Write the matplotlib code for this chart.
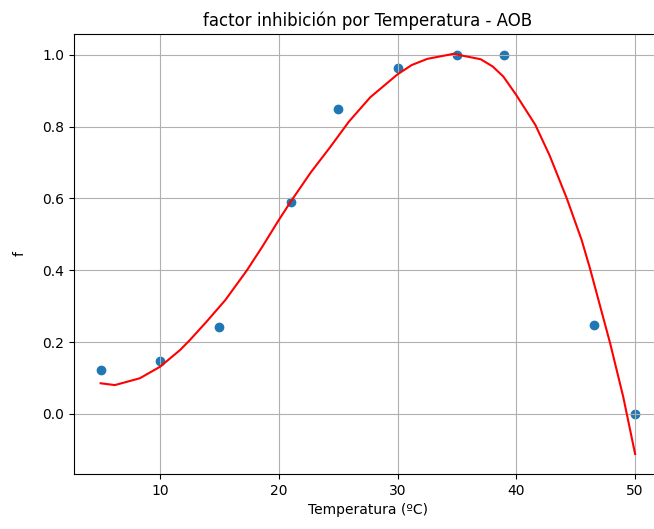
import matplotlib
matplotlib.use("Agg")
import matplotlib.pyplot as plt

# measured points
temp = [5, 10, 15, 21, 25, 30, 35, 39, 46.5, 50]
f_obs = [0.123, 0.146, 0.243, 0.591, 0.849, 0.963, 1.0, 1.0, 0.248, 0.0]

# fitted curve
temp_fit = [5, 6.2, 8.3, 10, 11.7, 12.5, 13.9, 15.5, 17.3, 18.6, 20, 21,
            22.7, 24.3, 25.9, 27.7, 30, 31.2, 32.5, 34.7, 37, 38, 38.9, 40,
            41.6, 42.8, 44.25, 45.5, 46.2, 47.9, 49, 50]
f_fit = [0.085, 0.080, 0.099, 0.131, 0.178, 0.205, 0.256, 0.317, 0.399,
         0.465, 0.540, 0.591, 0.673, 0.742, 0.814, 0.882, 0.946, 0.972,
         0.989, 1.003, 0.988, 0.968, 0.940, 0.888, 0.805, 0.720, 0.600,
         0.484, 0.405, 0.196, 0.047, -0.112]

fig = plt.figure(figsize=(6.54, 5.29), dpi=100)
ax = fig.add_axes([0.113, 0.104, 0.899, 0.832])

ax.scatter(temp, f_obs)
ax.plot(temp_fit, f_fit, color='red')

ax.set_title('factor inhibición por Temperatura - AOB')
ax.set_xlabel('Temperatura (ºC)')
ax.set_ylabel('f', labelpad=11)
ax.grid(True)

fig.savefig('out.png', dpi=100)
